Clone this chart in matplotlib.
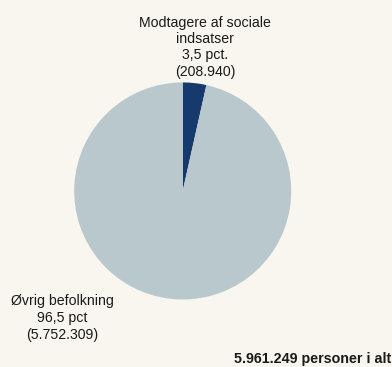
import matplotlib.pyplot as plt

plt.rcParams['font.family'] = ['Liberation Sans', 'DejaVu Sans']

groups = ['Modtagere af sociale\nindsatser', 'Øvrig befolkning']
persons = [208940, 5752309]
shares = [3.5, 96.5]
share_suffix = ['pct.', 'pct']
colors = ['#173a6e', '#b8c8cc']
total_label = '5.961.249 personer i alt'

bg = '#f8f6ee'


def fmt_int(v):
    return f'{v:,}'.replace(',', '.')


def fmt_share(v):
    return f'{v:.1f}'.replace('.', ',')


fig = plt.figure(figsize=(3.92, 3.67), dpi=100, facecolor=bg)
ax = fig.add_axes([0.1893, 0.184, 0.5536, 0.5913])
ax.set_facecolor(bg)
ax.pie(persons, colors=colors, startangle=90, counterclock=False,
       wedgeprops=dict(linewidth=0))
ax.set_xlim(-1, 1)
ax.set_ylim(-1, 1)
ax.set_aspect('auto')
ax.axis('off')

labels = [f'{g}\n{fmt_share(s)} {suf}\n({fmt_int(p)})'
          for g, s, suf, p in zip(groups, shares, share_suffix, persons)]

fig.text(205 / 392, 1 - 16 / 367, labels[0], ha='center', va='top',
         fontsize=10.2, linespacing=1.2, color='#1a1a1a')
fig.text(62.5 / 392, 1 - 294 / 367, labels[1], ha='center', va='top',
         fontsize=10.2, linespacing=1.25, color='#1a1a1a')
fig.text(391 / 392, 1 - 363 / 367, total_label, ha='right', va='baseline',
         fontsize=10.3, fontweight='bold', color='#1a1a1a')

fig.savefig('out.png', dpi=100, facecolor=bg)
